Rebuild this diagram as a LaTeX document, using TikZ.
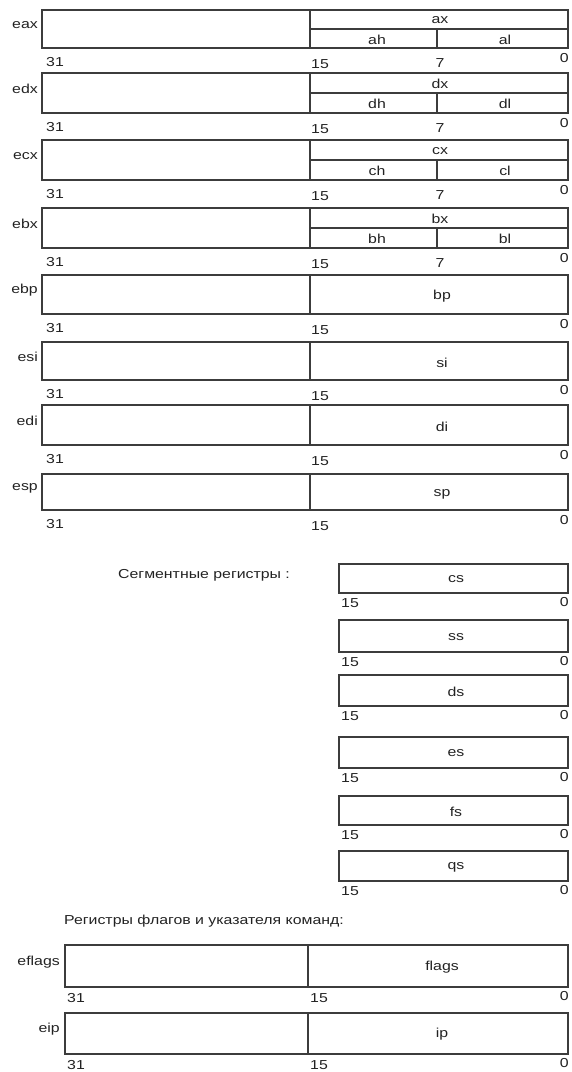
\documentclass[tikz,border=0pt]{standalone}
\usepackage{fontspec}
\setmainfont{Liberation Sans}[FakeStretch=1.22]
\definecolor{linec}{HTML}{3C3C3C}
\definecolor{txtc}{HTML}{222222}
\begin{document}
\begin{tikzpicture}[x=1pt,y=-1pt,
  regbox/.style={draw=linec,line width=1.8pt},
  subline/.style={draw=linec,line width=1.4pt},
  txt/.style={font=\fontsize{13}{15}\selectfont,text=txtc,inner sep=0pt}]
\useasboundingbox (0,0) rectangle (571,1072);

% general registers with byte parts
\foreach \n/\w/\h/\l/\t/\b in {eax/ax/ah/al/10/48,edx/dx/dh/dl/73/113,ecx/cx/ch/cl/140/180,ebx/bx/bh/bl/208/248}{
  \pgfmathsetmacro{\m}{(\t+\b)/2}
  \draw[regbox] (42,\t) rectangle (568,\b);
  \draw[subline] (310,\t) -- (310,\b);
  \draw[subline] (310,\m) -- (568,\m);
  \draw[subline] (437,\m) -- (437,\b);
  \node[txt,anchor=east] (\n) at (38,\m-4) {\n};
  \node[txt] (\w) at (440,{(\t+\m)/2+1}) {\w};
  \node[txt] (\h) at (377,{(\m+\b)/2+1}) {\h};
  \node[txt] (\l) at (505,{(\m+\b)/2+1}) {\l};
  \node[txt,anchor=west] (\n-31) at (46,\b+14) {31};
  \node[txt,anchor=west] (\n-15) at (311,\b+16) {15};
  \node[txt] (\n-7) at (440,\b+15) {7};
  \node[txt,anchor=east] (\n-0) at (569,\b+10) {0};
}

% general registers with 16-bit part only
\foreach \n/\w/\t/\b in {ebp/bp/275/314,esi/si/342/380,edi/di/405/445,esp/sp/474/510}{
  \pgfmathsetmacro{\m}{(\t+\b)/2}
  \draw[regbox] (42,\t) rectangle (568,\b);
  \draw[subline] (310,\t) -- (310,\b);
  \node[txt,anchor=east] (\n) at (38,\m-4) {\n};
  \node[txt] (\w) at (442,\m+2) {\w};
  \node[txt,anchor=west] (\n-31) at (46,\b+14) {31};
  \node[txt,anchor=west] (\n-15) at (311,\b+16) {15};
  \node[txt,anchor=east] (\n-0) at (569,\b+10) {0};
}

% segment registers
\node[txt,anchor=west] (seghead) at (118,575) {Сегментные регистры :};
\foreach \n/\t/\b in {cs/564/593,ss/620/652,ds/675/706,es/737/768,fs/796/825,qs/851/881}{
  \draw[regbox] (339,\t) rectangle (568,\b);
  \node[txt] (\n) at (456,{(\t+\b)/2+1}) {\n};
  \node[txt,anchor=west] (\n-15) at (341,\b+10) {15};
  \node[txt,anchor=east] (\n-0) at (569,\b+9) {0};
}

% flags and instruction pointer
\node[txt,anchor=west] (flaghead) at (64,921) {Регистры флагов и указателя команд:};
\foreach \n/\w/\t/\b in {eflags/flags/945/987,eip/ip/1013/1054}{
  \pgfmathsetmacro{\m}{(\t+\b)/2}
  \draw[regbox] (65,\t) rectangle (568,\b);
  \draw[subline] (308,\t) -- (308,\b);
  \node[txt,anchor=east] (\n) at (60,\m-4) {\n};
  \node[txt] (\w) at (442,\m+1) {\w};
  \node[txt,anchor=west] (\n-31) at (67,\b+11) {31};
  \node[txt,anchor=west] (\n-15) at (310,\b+11) {15};
  \node[txt,anchor=east] (\n-0) at (569,\b+9) {0};
}
\end{tikzpicture}
\end{document}
